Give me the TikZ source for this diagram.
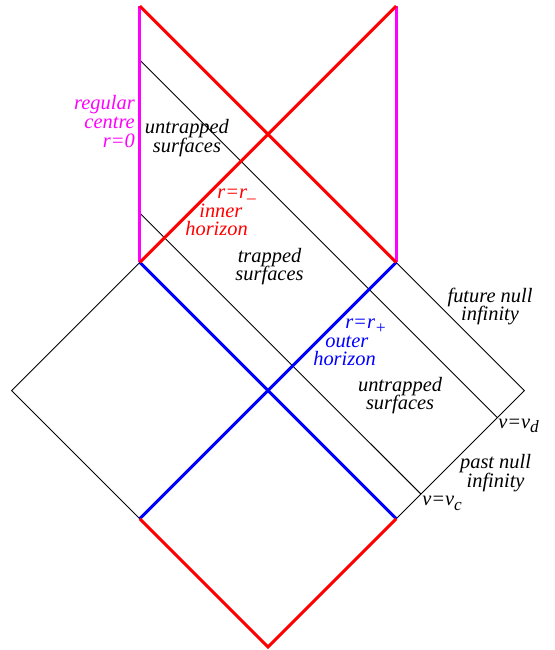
\documentclass[tikz,border=0pt]{standalone}
\usepackage{fontspec}
\setmainfont{Liberation Serif}
\definecolor{pmag}{RGB}{255,0,255}
\newcommand\lowsub[1]{\raisebox{-0.5ex}{\fontsize{11.5}{12}\selectfont #1}}
\newcommand\lblfont{\fontsize{13.6}{12.4}\selectfont\itshape\setlength{\lineskiplimit}{-20pt}\setlength{\lineskip}{0pt}}
\tikzset{
  lbl/.style={inner sep=0pt, align=center, font=\lblfont},
  thin line/.style={black, line width=0.6pt},
  thick red/.style={red, line width=2pt},
  thick blue/.style={blue, line width=2pt},
  thick mag/.style={pmag, line width=2pt},
}
\begin{document}
\begin{tikzpicture}[x=3cm,y=3cm]
\useasboundingbox (-2.0905,-0.0234) rectangle (2.2309,5.0468);
% vertices
\coordinate (B) at (0,0);
\coordinate (BL) at (-1,1);
\coordinate (BR) at (1,1);
\coordinate (L) at (-2,2);
\coordinate (R) at (2,2);
\coordinate (ML) at (-1,3);
\coordinate (MR) at (1,3);
\coordinate (TL) at (-1,5);
\coordinate (TR) at (1,5);
\coordinate (VDs) at (-1,4.579);
\coordinate (VDe) at (1.789,1.789);
\coordinate (VCs) at (-1,3.385);
\coordinate (VCe) at (1.193,1.193);
% thin black lines
\draw[thin line] (ML) -- (L) -- (BL);
\draw[thin line] (MR) -- (R) -- (BR);
\draw[thin line] (VDs) -- (VDe);
\draw[thin line] (VCs) -- (VCe);
% coloured lines
\draw[thick blue] (ML) -- (BR);
\draw[thick blue] (MR) -- (BL);
\draw[thick red] (BL) -- (B) -- (BR);
\draw[thick mag] (ML) -- (TL);
\draw[thick mag] (MR) -- (TR);
\draw[thick red] (TL) -- (MR);
\draw[thick red] (TR) -- (ML);
% labels (anchor base = baseline of the last line)
\node[lbl, pmag, align=right, anchor=base east] (centre) at (-1.037,3.900) {regular\\centre\\r=0};
\node[lbl, anchor=base] (untr1) at (-0.632,3.861) {untrapped\\surfaces};
\node[lbl, red, align=left, anchor=base west] (inner) at (-0.647,3.206)
  {\hspace*{21.3pt}r=r\lowsub{–}\\\hspace*{9.3pt}inner\\horizon};
\node[lbl, anchor=base] (trapped) at (0.012,2.855) {trapped\\surfaces};
\node[lbl, blue, align=left, anchor=base west] (outer) at (0.351,2.192)
  {\hspace*{21.3pt}r=r\lowsub{+}\\\hspace*{8pt}outer\\horizon};
\node[lbl, anchor=base] (untr2) at (1.030,1.849) {untrapped\\surfaces};
\node[lbl, anchor=base] (future) at (1.732,2.543) {future null\\infinity};
\node[lbl, anchor=base west] (vd) at (1.794,1.708) {v=v\lowsub{d}};
\node[lbl, anchor=base] (past) at (1.775,1.248) {past null\\infinity};
\node[lbl, anchor=base west] (vc) at (1.201,1.100) {v=v\lowsub{c}};
\end{tikzpicture}
\end{document}
